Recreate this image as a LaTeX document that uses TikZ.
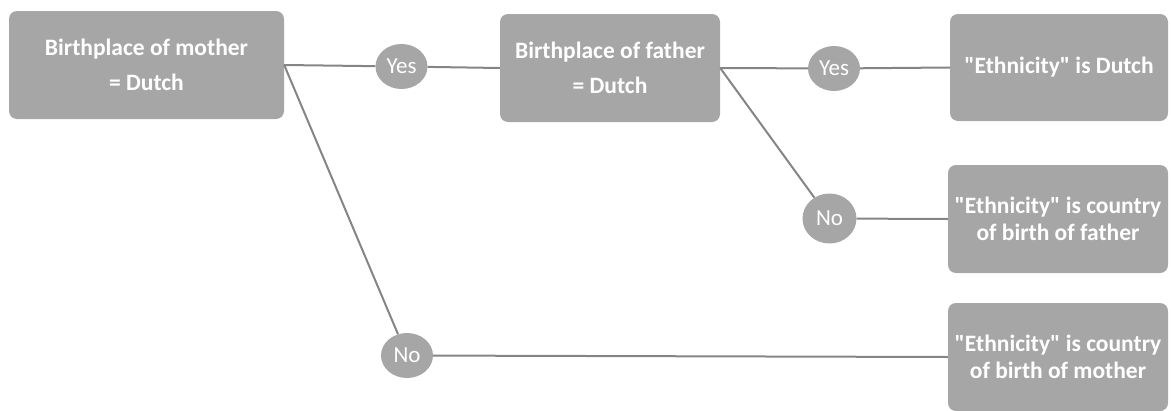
\documentclass[tikz,border=0pt]{standalone}
\usepackage{fontspec}
\setmainfont{Carlito}[Ligatures=TeXOff]
\usepackage{xcolor}
\usepackage{tikz}
\usetikzlibrary{positioning, shapes.geometric}
\definecolor{boxgray}{HTML}{A6A6A6}
\definecolor{linegray}{HTML}{858585}

\begin{document}
\begin{tikzpicture}[x=1pt, y=-1pt,
    decisionbox/.style={fill=boxgray, draw=none, rounded corners=8pt,
        align=center, text=white, font=\fontsize{23.5}{35}\selectfont\bfseries,
        minimum height=108pt, inner sep=0pt},
    outcomebox/.style={decisionbox, font=\fontsize{23.5}{26.5}\selectfont\bfseries},
    answer/.style={ellipse, fill=boxgray, draw=none, text=white,
        font=\fontsize{23}{26}\selectfont, inner sep=0pt,
        minimum width=52pt, minimum height=45pt},
    link/.style={draw=linegray, line width=2pt}]
  \useasboundingbox (0,0) rectangle (1171,410);

  % questions
  \node[decisionbox, minimum width=275pt] (mother) at (146.5,65)
    {Birthplace of mother\\= Dutch};
  \node[decisionbox, minimum width=220pt] (father) at (610,68)
    {Birthplace of father\\= Dutch};

  % outcomes
  \node[outcomebox, minimum width=218pt, minimum height=107pt] (dutch) at (1059,67.5)
    {"Ethnicity" is Dutch};
  \node[outcomebox, minimum width=220pt] (cfather) at (1058,219)
    {"Ethnicity" is country\\of birth of father};
  \node[outcomebox, minimum width=220pt] (cmother) at (1058,357)
    {"Ethnicity" is country\\of birth of mother};

  % answers
  \node[answer] (yesm) at (401.5,66.5) {Yes};
  \node[answer] (nom) at (407,355.5) {No};
  \node[answer] (yesf) at (834,68.5) {Yes};
  \node[answer, minimum width=54pt, minimum height=50pt] (nof) at (829.5,218.5) {No};

  % connectors
  \draw[link] (mother.east) -- (yesm);
  \draw[link] (mother.east) -- (nom);
  \draw[link] (yesm) -- (father.west);
  \draw[link] (nom) -- (cmother.west);
  \draw[link] (father.east) -- (yesf);
  \draw[link] (father.east) -- (nof);
  \draw[link] (yesf) -- (dutch.west);
  \draw[link] (nof) -- (cfather.west);
\end{tikzpicture}
\end{document}
